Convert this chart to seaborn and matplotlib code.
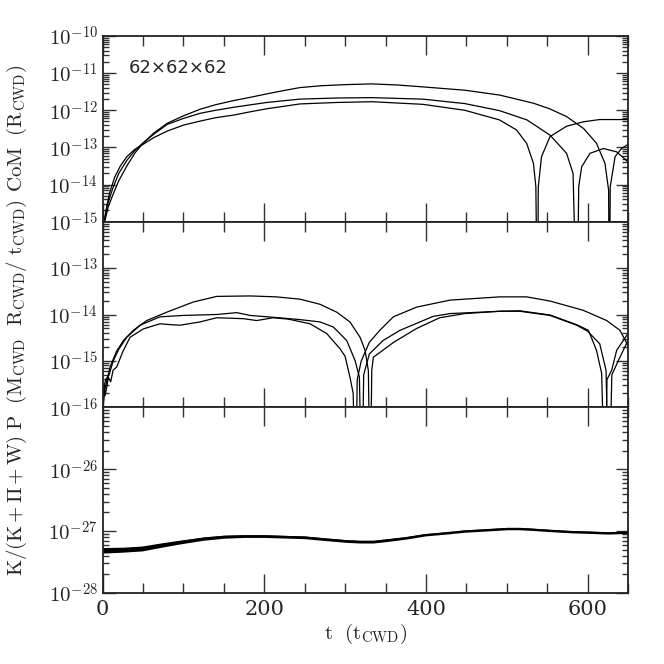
import numpy as np
import seaborn as sns
import matplotlib
matplotlib.use("Agg")
import matplotlib.pyplot as plt
from matplotlib.ticker import MultipleLocator, LogLocator, NullFormatter, FuncFormatter

# ---- data (log10 of the plotted quantity) ----
# centre-of-mass displacement, three runs
com_a_t = [2, 7, 13.4, 20, 30, 40, 50, 63, 80, 100, 121, 140, 162, 183, 203, 224, 244, 270, 300,
           333, 365, 396, 448, 491, 533, 553, 574, 595, 611, 621.5, 626, 627, 628, 634, 642, 650]
com_a_log = [-15.05, -14.6, -14.24, -13.9, -13.5, -13.15, -12.89, -12.62, -12.35, -12.15, -11.97,
             -11.85, -11.74, -11.65, -11.56, -11.47, -11.39, -11.34, -11.31, -11.29, -11.32, -11.37,
             -11.46, -11.59, -11.81, -11.96, -12.17, -12.49, -12.89, -13.43, -14.15, -18, -14.06,
             -13.25, -13.03, -12.92]

com_b_t = [2, 6, 12.6, 20, 30, 40, 50, 63, 80, 100, 121, 140, 162, 203, 244, 290, 333, 396, 448,
           491, 525, 553.5, 574, 582, 587, 589, 592.7, 603, 619.5, 636, 650]
com_b_log = [-15.0, -14.55, -14.1, -13.7, -13.35, -13.08, -12.88, -12.65, -12.38, -12.22, -12.08,
             -12.0, -11.92, -11.79, -11.70, -11.67, -11.66, -11.7, -11.82, -12.01, -12.26, -12.67,
             -13.16, -13.7, -18, -14.06, -13.52, -13.16, -13.03, -13.12, -13.39]

com_c_t = [2, 5, 9, 15, 22, 30, 40, 50, 63, 80, 100, 121, 140, 162, 183, 203, 244, 290, 333, 396,
           448, 491, 512, 524.6, 533, 536, 538, 539, 543, 553.5, 574, 595, 615, 650]
com_c_log = [-15.0, -14.6, -14.2, -13.8, -13.5, -13.25, -13.05, -12.92, -12.74, -12.56, -12.4,
             -12.29, -12.2, -12.13, -12.04, -11.96, -11.83, -11.79, -11.77, -11.84, -12.0, -12.26,
             -12.53, -12.89, -13.43, -14.06, -18, -14.06, -13.25, -12.71, -12.43, -12.31, -12.25, -12.25]

# total momentum, three runs
mom_a_t = [0.5, 3, 9.3, 17, 25.8, 38.1, 54.6, 79.4, 112.3, 141.2, 182.4, 215, 244.3, 269, 289.7,
           306, 318.5, 324.7, 328.8, 331, 333, 335, 360, 388.6, 417, 448, 491.6, 516, 553.5, 586.5,
           600, 615, 622.8, 626.5, 630, 640, 650]
mom_a_log = [-16.0, -15.6, -15.13, -14.8, -14.56, -14.34, -14.13, -13.95, -13.73, -13.61, -13.60,
             -13.62, -13.67, -13.78, -13.95, -14.16, -14.49, -14.77, -15.21, -18, -15.2, -14.92,
             -14.6, -14.30, -14.07, -13.98, -13.93, -13.93, -14.02, -14.23, -14.36, -14.63, -15.2,
             -18, -15.3, -14.92, -14.56]

mom_b_t = [0.5, 1, 4, 8, 13.4, 20, 29.9, 46.4, 71, 100, 141, 166, 182.4, 211, 244.3, 269, 285.5,
           302, 312.3, 317.7, 320.6, 323, 330, 347, 368, 409, 430, 491.6, 516, 553.5, 586.5, 601,
           611, 617.4, 621.5, 624, 629.8, 636, 650]
mom_b_log = [-16.0, -15.6, -15.4, -15.3, -14.99, -14.75, -14.49, -14.23, -14.05, -14.02, -14.0,
             -13.96, -14.02, -14.06, -14.11, -14.16, -14.27, -14.56, -14.99, -15.35, -18, -15.3,
             -14.85, -14.56, -14.34, -14.04, -13.98, -13.93, -13.92, -14.01, -14.22, -14.34, -14.77,
             -15.27, -18, -15.4, -15.2, -14.77, -14.41]

mom_c_t = [0.5, 2, 3, 5.2, 7, 10, 13, 17.5, 25, 34, 50.5, 71, 85, 95.9, 120.6, 141, 174, 190.7,
           211, 230, 256.6, 277.3, 293.8, 300, 306, 310, 313, 315, 320, 330, 343, 359.7, 388.6,
           430, 491.6, 524.6, 553.5, 594.7, 623.6, 640, 650]
mom_c_log = [-16.0, -15.5, -15.75, -15.57, -15.35, -15.45, -15.2, -15.13, -14.8, -14.49, -14.31,
             -14.2, -14.22, -14.23, -14.16, -14.07, -14.09, -14.13, -14.07, -14.1, -14.2, -14.41,
             -14.74, -14.9, -15.35, -15.7, -18, -15.4, -15.0, -14.6, -14.34, -14.05, -13.84, -13.69,
             -13.62, -13.62, -13.71, -13.91, -14.13, -14.34, -14.67]

# kinetic energy fraction (centre line and half-width of the noisy band, in dex)
kin_t = [0, 25, 49, 75, 99, 125, 150, 175, 200, 225, 250, 275, 302, 318, 335, 349, 375, 399, 425,
         448, 475, 501, 516, 530, 553, 580, 605, 625, 650]
kin_log = [-27.31, -27.30, -27.28, -27.22, -27.17, -27.12, -27.09, -27.08, -27.08, -27.09, -27.10,
           -27.13, -27.16, -27.17, -27.17, -27.15, -27.11, -27.06, -27.03, -27.0, -26.98, -26.96,
           -26.96, -26.97, -26.99, -27.01, -27.02, -27.03, -27.02]
kin_spread = [0.045, 0.04, 0.04, 0.035, 0.03, 0.027, 0.025, 0.022, 0.022, 0.022, 0.022, 0.022,
              0.022, 0.022, 0.022, 0.022, 0.02, 0.018, 0.018, 0.018, 0.018, 0.018, 0.018, 0.018,
              0.018, 0.018, 0.018, 0.018, 0.018]

grid_label = "62×62×62"

# ---- plotting ----
sns.set_style("ticks")
plt.rcParams["font.family"] = ["DejaVu Serif"]
plt.rcParams["mathtext.fontset"] = "cm"

fig, axes = plt.subplots(3, 1, sharex=True, figsize=(6.64, 6.64), dpi=100)
fig.subplots_adjust(left=0.1545, right=0.9458, top=0.9458, bottom=0.1069, hspace=0)

line_kw = dict(color="black", linewidth=0.9, estimator=None, sort=False, legend=False)

ax = axes[0]
for ts, ls in [(com_a_t, com_a_log), (com_b_t, com_b_log), (com_c_t, com_c_log)]:
    sns.lineplot(x=ts, y=10.0 ** np.array(ls), ax=ax, **line_kw)
ax.set_ylim(1e-15, 1e-10)
ax.text(0.05, 0.83, grid_label, transform=ax.transAxes, fontsize=13,
        family="DejaVu Sans", va="center", ha="left")

ax = axes[1]
for ts, ls in [(mom_a_t, mom_a_log), (mom_b_t, mom_b_log), (mom_c_t, mom_c_log)]:
    sns.lineplot(x=ts, y=10.0 ** np.array(ls), ax=ax, **line_kw)
ax.set_ylim(1e-16, 1e-12)

ax = axes[2]
kin_log = np.array(kin_log)
kin_spread = np.array(kin_spread)
ax.fill_between(kin_t, 10.0 ** (kin_log - kin_spread), 10.0 ** (kin_log + kin_spread),
                color="black", linewidth=0)
sns.lineplot(x=kin_t, y=10.0 ** kin_log, ax=ax, **dict(line_kw, linewidth=1.2))
ax.set_ylim(1e-28, 1e-25)

major_ticks = [[-15, -14, -13, -12, -11, -10], [-16, -15, -14, -13], [-28, -27, -26]]
ylabels = [r"$\mathrm{CoM}\ \ (\mathrm{R_{CWD}})$",
           r"$\mathrm{P}\ \ (\mathrm{M_{CWD}\ \ R_{CWD}/\ t_{CWD}})$",
           r"$\mathrm{K/(K\,{+}\,\Pi\,{+}\,W)}$"]

for ax, ticks, lab in zip(axes, major_ticks, ylabels):
    ax.set_yscale("log")
    ax.set_yticks([10.0 ** k for k in ticks])
    ax.yaxis.set_major_formatter(FuncFormatter(lambda v, p: r"$10^{%d}$" % round(np.log10(v))))
    ax.yaxis.set_minor_locator(LogLocator(base=10, subs=np.arange(2, 10), numticks=50))
    ax.yaxis.set_minor_formatter(NullFormatter())
    ax.xaxis.set_major_locator(MultipleLocator(200))
    ax.xaxis.set_minor_locator(MultipleLocator(50))
    ax.tick_params(which="both", direction="in", top=True, right=True, labelsize=15,
                   width=1.0, color="#333333")
    ax.tick_params(axis="x", which="major", length=14)
    ax.tick_params(axis="x", which="minor", length=7)
    ax.tick_params(axis="y", which="major", length=9)
    ax.tick_params(axis="y", which="minor", length=4.5)
    for side in ax.spines.values():
        side.set_linewidth(1.3)
        side.set_color("#222222")
    ax.set_ylabel(lab, fontsize=15)
    ax.yaxis.set_label_coords(-0.14, 0.5)
    ax.set_xlim(0, 650)

axes[2].yaxis.set_label_coords(-0.14, 0.47)
axes[2].set_xlabel(r"$\mathrm{t\ \ (t_{CWD})}$", fontsize=15, labelpad=2)
axes[2].tick_params(axis="x", pad=5)

fig.savefig("out.png", dpi=100)
